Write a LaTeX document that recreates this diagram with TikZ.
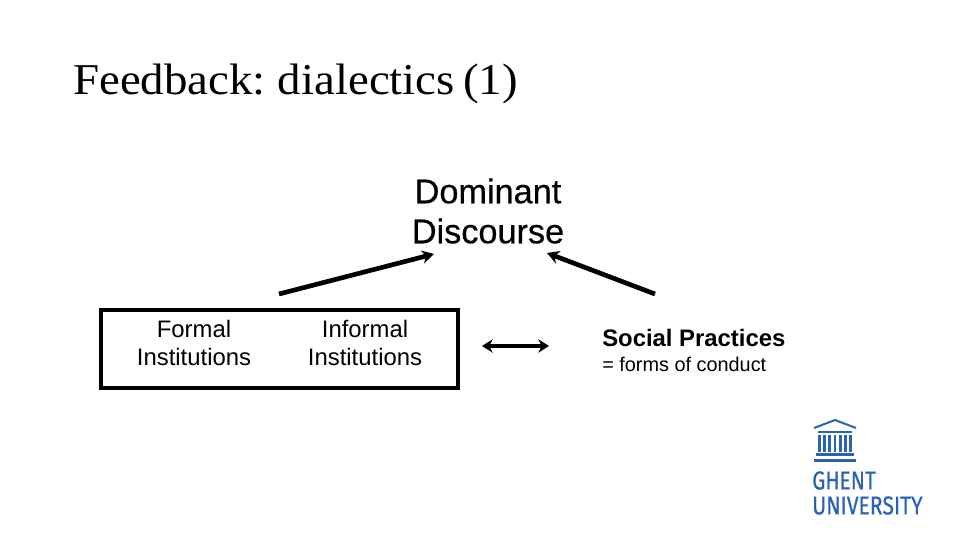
\documentclass[tikz,border=0pt]{standalone}
\usepackage{fontspec}
\setmainfont{Liberation Sans}
\newfontfamily\titlefont[WordSpace=0.7]{Liberation Serif}
\newfontfamily\logofont[FakeBold=0.6]{Fira Sans}
\newfontfamily\heavyfont[FakeBold=0.5]{Liberation Sans}
\usetikzlibrary{arrows.meta}
\definecolor{ugent}{HTML}{2A62B8}
\tikzset{
  px/.style={x=0.75pt,y=-0.75pt},
  conn/.style={line width=3.5pt,{Stealth[length=9pt,width=10pt]}-},
  bothconn/.style={line width=3pt,{Stealth[length=8pt,width=10pt]}-{Stealth[length=8pt,width=10pt]}},
  inst/.style={font=\fontsize{17.9}{21.6}\selectfont,align=center,inner sep=0pt},
  logobar/.style={fill=ugent,draw=none},
  logotext/.style={text=ugent,inner sep=0pt,anchor=west}
}
\begin{document}
\begin{tikzpicture}[px]
\useasboundingbox (0,0) rectangle (960,540);
\node[anchor=west,inner sep=0pt,font=\titlefont\fontsize{33}{36}\selectfont] (title) at (73,84) {\scalebox{1.065}[1]{Feedback: dialectics (1)}};
\node[align=center,inner sep=0pt,font=\heavyfont\fontsize{25.7}{30}\selectfont] (dom) at (488,211) {Dominant\\Discourse};
\node[draw,line width=3pt,inner sep=0pt,minimum width=268pt,minimum height=58pt] (box) at (279.5,349) {};
\node[inst] (formal) at (194,343) {Formal\\Institutions};
\node[inst] (informal) at (365,343) {Informal\\Institutions};
\node[anchor=west,inner sep=0pt,font=\bfseries\fontsize{17.9}{20}\selectfont] (social) at (602,338) {Social Practices};
\node[anchor=west,inner sep=0pt,font=\fontsize{14.9}{18}\selectfont] (forms) at (602,364) {= forms of conduct};
\coordinate (a1) at (279,294);
\coordinate (a2) at (434,254);
\coordinate (b1) at (655,294);
\coordinate (b2) at (547,253);
\coordinate (c1) at (482,346);
\coordinate (c2) at (549,346);
\draw[conn] (a2) -- (a1);
\draw[conn] (b2) -- (b1);
\draw[bothconn] (c1) -- (c2);
% logo
\draw[ugent,line width=1.5pt,line join=miter] (814,428) -- (835,420) -- (856,428);
\fill[logobar] (818,430.5) rectangle (852,432.5);
\foreach \x in {818,823.2,828.4,833.6,838.8,844,849.2}{\fill[logobar] (\x,435) rectangle (\x+2.8,452);}
\fill[logobar] (816,453) rectangle (854,455.5);
\fill[logobar] (814,458.5) rectangle (856,461.5);
\node[logotext,font=\logofont\fontsize{17}{18}\selectfont] (ghent) at (812,480.5) {\scalebox{0.92}[1.14]{GHENT}};
\node[logotext,font=\logofont\fontsize{17}{18}\selectfont] (univ) at (812,505.5) {\scalebox{0.93}[1.14]{UNIVERSITY}};
\end{tikzpicture}
\end{document}
